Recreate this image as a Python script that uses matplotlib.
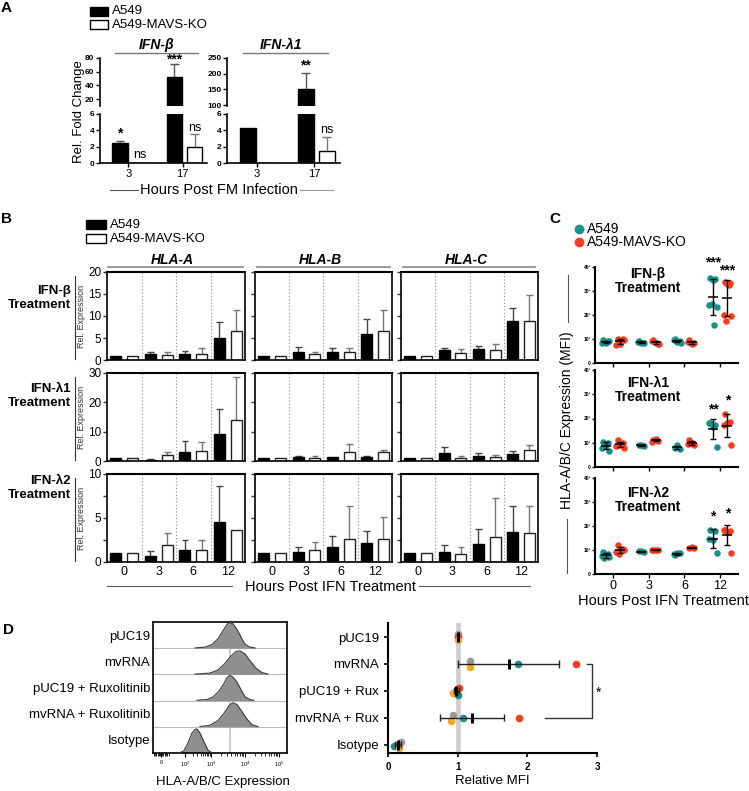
import numpy as np
import matplotlib
matplotlib.use('Agg')
import matplotlib.pyplot as plt
from matplotlib.lines import Line2D
from matplotlib.patches import Rectangle

plt.rcParams['font.family'] = ['Liberation Sans', 'DejaVu Sans']
plt.rcParams['axes.linewidth'] = 1.2
plt.rcParams['mathtext.fontset'] = 'custom'
plt.rcParams['mathtext.rm'] = 'Liberation Sans'

# ---------------- data ----------------
# A: qPCR fold change (mean, SD), hours 3 and 17
a_hours = ['3', '17']
ifnb_wt = [2.4, 53.0]
ifnb_wt_sd = [0.3, 18.0]
ifnb_ko = [0.0, 1.9]
ifnb_ko_sd = [0.0, 1.6]
ifnl1_wt = [4.3, 152.0]
ifnl1_wt_sd = [0.0, 49.0]
ifnl1_ko = [0.0, 1.5]
ifnl1_ko_sd = [0.0, 1.7]
ifnb_stars = [['*', '***'], ['ns', 'ns']]
ifnl1_stars = [['', '**'], ['', 'ns']]

# B: HLA relative expression, hours 0/3/6/12, columns HLA-A, HLA-B, HLA-C
b_hours = ['0', '3', '6', '12']
b_genes = ['HLA-A', 'HLA-B', 'HLA-C']
b_treat = ['IFN-β', 'IFN-λ1', 'IFN-λ2']
b_beta_wt = [[1.0, 1.3, 1.3, 4.9], [1.0, 1.9, 1.75, 5.95], [1.0, 2.2, 2.4, 8.9]]
b_beta_wt_sd = [[0, 0.45, 0.75, 3.8], [0, 1.0, 1.0, 3.35], [0, 0.5, 0.7, 2.9]]
b_beta_ko = [[1.0, 1.15, 1.45, 6.6], [1.0, 1.3, 1.75, 6.6], [1.0, 1.5, 2.2, 8.8]]
b_beta_ko_sd = [[0, 0.6, 1.3, 4.7], [0, 0.6, 0.95, 4.7], [0, 0.9, 1.4, 6.0]]
b_l1_wt = [[1.0, 0.5, 3.0, 9.2], [1.0, 1.5, 1.4, 1.3], [1.0, 2.7, 1.8, 2.5]]
b_l1_wt_sd = [[0, 0.2, 3.7, 8.4], [0, 0.3, 0, 0.4], [0, 2.1, 0.8, 0.8]]
b_l1_ko = [[1.0, 2.2, 3.5, 14.1], [1.0, 1.0, 3.0, 3.0], [1.0, 1.1, 1.5, 3.9]]
b_l1_ko_sd = [[0, 0.8, 3.1, 14.4], [0, 0.8, 2.8, 0.9], [0, 0.6, 0.4, 1.7]]
b_l2_wt = [[1.0, 0.65, 1.4, 4.6], [1.0, 1.1, 1.65, 2.15], [1.0, 1.15, 2.05, 3.45]]
b_l2_wt_sd = [[0, 0.55, 1.15, 4.05], [0, 0.65, 1.35, 1.4], [0, 0.75, 1.75, 2.95]]
b_l2_ko = [[1.0, 1.9, 1.4, 3.6], [1.0, 1.4, 2.65, 2.6], [1.0, 0.9, 2.8, 3.3]]
b_l2_ko_sd = [[0, 1.45, 1.15, 0], [0, 0.9, 3.75, 2.5], [0, 0.75, 4.5, 3.1]]

# C: HLA-A/B/C MFI (x10^3) replicate values per hour
c_hours = ['0', '3', '6', '12']
c_beta_wt = [[9.5, 9.0, 8.5, 8.2, 9.2, 8.8], [9.0, 8.5, 8.2, 8.8], [9.8, 9.0, 8.7, 9.5, 8.5],
             [35.5, 35.0, 34.5, 24.0, 23.5, 24.5, 16.0]]
c_beta_ko = [[10.2, 9.8, 8.0, 7.5, 9.5, 9.0], [9.5, 8.0, 8.5, 9.0, 7.8], [9.6, 8.4, 8.0, 8.6],
             [33.8, 33.5, 33.0, 20.0, 19.5, 17.5, 32.5]]
c_l1_wt = [[10.5, 10.0, 9.0, 8.0, 6.8], [9.0, 8.6, 9.2], [8.0, 7.6, 8.9], [18.3, 17.5, 16.5, 18.0, 8.2]]
c_l1_ko = [[11.0, 10.0, 9.5, 8.5, 8.0, 9.0], [11.2, 10.8, 11.5, 10.5], [11.0, 9.0, 10.0, 9.3],
           [22.0, 18.5, 18.0, 17.5, 9.0]]
c_l2_wt = [[9.0, 8.5, 8.0, 7.5, 7.0, 6.5], [9.4, 9.2, 9.5], [8.0, 8.6, 8.9, 8.3], [18.2, 18.0, 14.3, 14.5, 8.7]]
c_l2_ko = [[12.0, 10.5, 9.5, 9.0, 10.0, 8.5], [10.0, 9.8, 10.2, 10.1], [10.8, 11.0, 11.2],
           [18.5, 18.0, 17.5, 18.2, 8.7]]
c_stars = [['***', '***'], ['**', '*'], ['*', '*']]

# D left: flow histograms (channel position, height in row units)
d_hist_labels = ['pUC19', 'mvRNA', 'pUC19 + Ruxolitinib', 'mvRNA + Ruxolitinib', 'Isotype']
h_puc_x = [321, 397, 451, 497, 535, 566, 588, 611, 642, 672, 703, 741, 780]
h_puc_y = [0.01, 0.04, 0.14, 0.36, 0.67, 0.91, 0.98, 0.93, 0.72, 0.43, 0.15, 0.04, 0.01]
h_mv_x = [321, 436, 497, 550, 596, 634, 665, 703, 741, 787, 833, 879]
h_mv_y = [0.01, 0.05, 0.17, 0.42, 0.70, 0.87, 0.90, 0.78, 0.52, 0.24, 0.07, 0.01]
h_pucrux_x = [336, 413, 459, 504, 543, 566, 588, 611, 642, 672, 703, 741, 772]
h_pucrux_y = [0.01, 0.04, 0.14, 0.36, 0.66, 0.88, 0.96, 0.90, 0.70, 0.42, 0.15, 0.04, 0.01]
h_mvrux_x = [359, 436, 497, 543, 581, 611, 642, 680, 718, 757, 802]
h_mvrux_y = [0.01, 0.06, 0.24, 0.52, 0.81, 0.92, 0.85, 0.58, 0.29, 0.08, 0.01]
h_iso_x = [206, 237, 267, 298, 321, 336, 359, 390, 420, 451]
h_iso_y = [0.01, 0.09, 0.38, 0.76, 0.90, 0.92, 0.76, 0.42, 0.11, 0.01]
h_tick_pos = [61, 245, 443, 703, 963]
h_tick_lab = ['0', '$10^2$', '$10^3$', '$10^4$', '$10^5$']
h_ref = 588

# D right: relative MFI per replicate
d_samples = ['pUC19', 'mvRNA', 'pUC19 + Rux', 'mvRNA + Rux', 'Isotype']
d_gray = [1.0, 1.18, 0.97, 0.93, 0.18]
d_teal = [1.0, 1.87, 1.0, 1.08, 0.09]
d_red = [1.0, 2.70, 1.02, 1.88, 0.14]
d_orange = [1.0, 1.17, 0.94, 0.91, 0.16]

TEAL = '#14928c'
RED = '#ff3a1c'
GRAY = '#9a9a9a'
ORANGE = '#f7a823'

W, H = 749, 791
fig = plt.figure(figsize=(W / 100, H / 100), dpi=100)


def px_axes(x0, y0, x1, y1):
    return fig.add_axes([x0 / W, 1 - y1 / H, (x1 - x0) / W, (y1 - y0) / H])


def ftext(x, y, s, **kw):
    return fig.text(x / W, 1 - y / H, s, **kw)


def fline(xs, ys, **kw):
    fig.add_artist(Line2D([x / W for x in xs], [1 - y / H for y in ys], **kw))


def fbox(x0, y0, x1, y1, fc):
    fig.add_artist(Rectangle((x0 / W, 1 - y1 / H), (x1 - x0) / W, (y1 - y0) / H,
                             facecolor=fc, edgecolor='black', lw=1.0))


def up_err(ax, xs, means, sds, cw, color):
    for x, m, s in zip(xs, means, sds):
        if s > 0:
            ax.vlines(x, m, m + s, color=color, lw=1.0, zorder=1)
            ax.hlines(m + s, x - cw, x + cw, color=color, lw=1.0, zorder=1)


# ---------------- panel A ----------------
ftext(6, 8, 'A', fontsize=11, fontweight='bold', ha='center', va='center')
fbox(90, 7, 108, 16, 'black')
fbox(90, 20, 108, 29, 'white')
ftext(112, 11.5, 'A549', fontsize=9.5, va='center')
ftext(112, 24.5, 'A549-MAVS-KO', fontsize=9.5, va='center')


def panel_a(x0, x1, title, tx, lx0, lx1, wt, wt_sd, ko, ko_sd, top_lim, top_ticks, stars, star_y):
    top = px_axes(x0, 58, x1, 106)
    bot = px_axes(x0, 114, x1, 163)
    x = np.arange(len(a_hours))
    for ax in (top, bot):
        ax.bar(x - 0.15, wt, 0.28, color='black', edgecolor='black', lw=1, zorder=2)
        ax.bar(x + 0.22, ko, 0.28, color='white', edgecolor='black', lw=1, zorder=2)
        up_err(ax, x - 0.15, wt, wt_sd, 0.08, '#555555')
        up_err(ax, x + 0.22, ko, ko_sd, 0.08, '#777777')
        ax.set_xlim(-0.52, 1.45)
        for s in ('top', 'right'):
            ax.spines[s].set_visible(False)
        ax.tick_params(axis='y', labelsize=6, length=3, width=1, pad=1)
    top.set_ylim(*top_lim)
    top.set_yticks(top_ticks)
    top.spines['bottom'].set_visible(False)
    top.set_xticks([])
    bot.set_ylim(0, 6)
    bot.set_yticks([0, 2, 4, 6])
    bot.set_xticks(x)
    bot.set_xticklabels(a_hours, fontsize=8)
    bot.tick_params(axis='x', length=3, width=1, pad=1)
    for lab in top.get_yticklabels() + bot.get_yticklabels():
        lab.set_fontweight('bold')
    for (i, j), (which, yy) in star_y.items():
        ax = top if which == 't' else bot
        xx = (i - 0.15) if j == 0 else (i + 0.22)
        ax.text(xx, yy, stars[j][i], ha='center', va='bottom', fontsize=9 if stars[j][i] == 'ns' else 10,
                fontweight='normal' if stars[j][i] == 'ns' else 'bold', clip_on=False)
    ftext(tx, 45, title, fontsize=10, fontweight='bold', fontstyle='italic', ha='center', va='center')
    fline([lx0, lx1], [53, 53], color='#777777', lw=1)


panel_a(100, 207, 'IFN-β', 157, 115, 198, ifnb_wt, ifnb_wt_sd, ifnb_ko, ifnb_ko_sd, (10, 80),
        [20, 40, 60, 80], ifnb_stars,
        {(0, 0): ('b', 2.75), (0, 1): ('b', 0.2), (1, 0): ('t', 67), (1, 1): ('b', 3.6)})
panel_a(227, 340, 'IFN-λ1', 281, 243, 328, ifnl1_wt, ifnl1_wt_sd, ifnl1_ko, ifnl1_ko_sd, (97, 250),
        [100, 150, 200, 250], ifnl1_stars,
        {(1, 0): ('t', 205), (1, 1): ('b', 3.3)})
ftext(79, 112, 'Rel. Fold Change', fontsize=9.5, rotation=90, ha='center', va='center')
ftext(219, 190, 'Hours Post FM Infection', fontsize=10.5, ha='center', va='center')
fline([110, 138], [190, 190], color='#555555', lw=0.8)
fline([300, 333], [190, 190], color='#999999', lw=0.8)

# ---------------- panel B ----------------
ftext(7, 219, 'B', fontsize=11, fontweight='bold', ha='center', va='center')
fbox(86, 220, 106, 229, 'black')
fbox(86, 234, 106, 243, 'white')
ftext(110, 224.5, 'A549', fontsize=9.5, va='center')
ftext(110, 238.5, 'A549-MAVS-KO', fontsize=9.5, va='center')

b_cols = [(107, 245), (255, 392), (401, 538)]
b_rows = [(272, 360), (373, 461), (474, 562)]
b_title_x = [172, 320, 466]
b_title_lines = [(108, 243), (257, 390), (403, 535)]
b_row_y = [298, 396, 488]
b_ylims = [(0, 20, [0, 5, 10, 15, 20], [0, 5, 10, 15, 20]),
           (0, 30, [0, 10, 20, 30], [0, 10, 20, 30]),
           (0, 10, [0, 2.5, 5, 7.5, 10], ['0', '', '5', '', '10'])]
b_data = [(b_beta_wt, b_beta_wt_sd, b_beta_ko, b_beta_ko_sd),
          (b_l1_wt, b_l1_wt_sd, b_l1_ko, b_l1_ko_sd),
          (b_l2_wt, b_l2_wt_sd, b_l2_ko, b_l2_ko_sd)]

for c, g in enumerate(b_genes):
    ftext(b_title_x[c], 260, g, fontsize=10, fontweight='bold', fontstyle='italic', ha='center', va='center')
    fline(list(b_title_lines[c]), [267, 267], color='#888888', lw=1.2)

xb = np.arange(len(b_hours))
for r in range(3):
    wt, wt_sd, ko, ko_sd = b_data[r]
    y0, y1 = b_rows[r]
    ftext(71, b_row_y[r], b_treat[r] + '\nTreatment', fontsize=9.5, fontweight='bold', ha='right',
          va='center', linespacing=1.3)
    ftext(81, (y0 + y1) / 2, 'Rel. Expression', fontsize=6.5, rotation=90, ha='center', va='center',
          color='#333333')
    fline([75, 75], [y0 + 4, y1 - 1], color='#333333', lw=0.8)
    for c in range(3):
        ax = px_axes(b_cols[c][0], y0, b_cols[c][1], y1)
        ax.bar(xb - 0.24, wt[c], 0.32, color='black', edgecolor='black', lw=1, zorder=2)
        ax.bar(xb + 0.25, ko[c], 0.32, color='white', edgecolor='#222222', lw=1, zorder=2)
        up_err(ax, xb - 0.24, wt[c], wt_sd[c], 0.1, '#444444')
        up_err(ax, xb + 0.25, ko[c], ko_sd[c], 0.1, '#777777')
        for xv in (0.5, 1.5, 2.5):
            ax.axvline(xv, color='#888888', lw=0.8, ls=(0, (1, 2)), zorder=0)
        lo, hi, ticks, labs = b_ylims[r]
        ax.set_ylim(lo, hi)
        ax.set_xlim(-0.5, 3.5)
        ax.set_yticks(ticks)
        if c == 0:
            ax.set_yticklabels(labs, fontsize=8.5)
        else:
            ax.set_yticklabels([])
        ax.tick_params(axis='y', length=3, width=1, pad=1, color='#333333')
        ax.set_xticks(xb)
        if r == 2:
            ax.set_xticklabels(b_hours, fontsize=9)
            ax.tick_params(axis='x', length=0, pad=3)
        else:
            ax.set_xticklabels([])
            ax.tick_params(axis='x', length=0)
        ax.spines['top'].set_linewidth(1.5)

ftext(330, 587, 'Hours Post IFN Treatment', fontsize=10.5, ha='center', va='center')
fline([107, 232], [586, 586], color='#555555', lw=0.8)
fline([419, 530], [586, 586], color='#555555', lw=0.8)

# ---------------- panel C ----------------
ftext(555, 219, 'C', fontsize=11, fontweight='bold', ha='center', va='center')
fig.add_artist(Line2D([579 / W], [1 - 229 / H], marker='o', ms=6, color=TEAL, lw=0))
fig.add_artist(Line2D([579 / W], [1 - 242 / H], marker='o', ms=6, color=RED, lw=0))
ftext(587, 229, 'A549', fontsize=10, va='center')
ftext(587, 242, 'A549-MAVS-KO', fontsize=10, va='center')

c_rows = [(267, 363), (370, 467), (478, 574)]
c_data = [(c_beta_wt, c_beta_ko), (c_l1_wt, c_l1_ko), (c_l2_wt, c_l2_ko)]
c_title_y = [281, 390, 500]
c_star_y = [[39.0, 35.5], [21.0, 24.5], [21.0, 22.5]]
jit = np.array([-0.07, 0.07, 0.0, -0.1, 0.1, -0.035, 0.035])
xc = np.arange(len(c_hours))
for r in range(3):
    y0, y1 = c_rows[r]
    ax = px_axes(595, y0, 738, y1)
    for g in range(4):
        for pts, off, col in ((c_data[r][0][g], -0.2, TEAL), (c_data[r][1][g], 0.2, RED)):
            pts = np.array(pts)
            xs = g + off + jit[:len(pts)]
            ax.scatter(xs, pts, s=22, color=col, lw=0, zorder=2)
            m, sd = pts.mean(), pts.std(ddof=1)
            ax.hlines(m, g + off - 0.14, g + off + 0.14, color='black', lw=1.1, zorder=3)
            ax.vlines(g + off, m - sd, m + sd, color='black', lw=1.0, zorder=3)
            ax.hlines([m - sd, m + sd], g + off - 0.09, g + off + 0.09, color='black', lw=1.0, zorder=3)
    ax.text(3 - 0.2, c_star_y[r][0], c_stars[r][0], ha='center', va='bottom', fontsize=10,
            fontweight='bold', clip_on=False)
    ax.text(3 + 0.2, c_star_y[r][1], c_stars[r][1], ha='center', va='bottom', fontsize=10,
            fontweight='bold', clip_on=False)
    ax.set_xlim(-0.5, 3.5)
    ax.set_ylim(0, 40)
    ax.set_yticks([0, 10, 20, 30, 40])
    ax.set_yticklabels(['0', '10³', '20³', '30³', '40³'], fontsize=3.5, fontweight='bold')
    ax.tick_params(axis='y', length=2, width=1, pad=1)
    ax.set_xticks(xc)
    if r == 2:
        ax.set_xticklabels(c_hours, fontsize=9)
    else:
        ax.set_xticklabels([])
    ax.tick_params(axis='x', length=3, width=1, pad=1)
    for s in ('top', 'right'):
        ax.spines[s].set_visible(False)
    ax.spines['left'].set_linewidth(1.5)
    ax.spines['bottom'].set_linewidth(1.5)
    ftext(648, c_title_y[r], b_treat[r] + '\nTreatment', fontsize=10, fontweight='bold', ha='center',
          va='center', linespacing=1.0)

ftext(567, 420, 'HLA-A/B/C Expression (MFI)', fontsize=10, rotation=90, ha='center', va='center')
fline([568, 568], [275, 322], color='#555555', lw=0.8)
fline([567, 567], [519, 573], color='#555555', lw=0.8)
ftext(663, 601, 'Hours Post IFN Treatment', fontsize=10.5, ha='center', va='center')

# ---------------- panel D (histograms) ----------------
ftext(8, 630, 'D', fontsize=11, fontweight='bold', ha='center', va='center')
hx = [h_puc_x, h_mv_x, h_pucrux_x, h_mvrux_x, h_iso_x]
hy = [h_puc_y, h_mv_y, h_pucrux_y, h_mvrux_y, h_iso_y]
base = [4, 3, 2, 1, 0]
label_y = [637, 663, 689, 715, 741]
axh = px_axes(153, 622, 287, 753)
axh.axvline(h_ref, color='#cccccc', lw=1.5, zorder=0)
for k in range(5):
    yy = np.array(hy[k]) + base[k]
    axh.fill_between(hx[k], base[k], yy, color='#8f8f8f', lw=0, zorder=2)
    axh.plot(hx[k], yy, color='#3a3a3a', lw=0.8, zorder=3)
    ftext(150, label_y[k], d_hist_labels[k], fontsize=9.5, ha='right', va='center')
for sep in (1, 2, 3, 4):
    axh.axhline(sep, color='#bbbbbb', lw=0.8, zorder=1)
axh.set_xlim(0, 1024)
axh.set_ylim(0, 5)
axh.set_yticks([])
axh.set_xticks(h_tick_pos)
axh.set_xticklabels(h_tick_lab, fontsize=4)
minor = []
for a, b in zip(h_tick_pos[1:-1], h_tick_pos[2:]):
    minor += list(a + (b - a) * np.log10(np.arange(2, 10)))
minor += list(np.linspace(5, 120, 12))
axh.set_xticks(minor, minor=True)
axh.tick_params(axis='x', which='major', length=3, width=0.8, pad=2)
axh.tick_params(axis='x', which='minor', length=2, width=0.6)
ftext(223, 782, 'HLA-A/B/C Expression', fontsize=9.5, ha='center', va='center')

# ---------------- panel D (dot plot) ----------------
axd = px_axes(388, 623, 597, 753)
yd = np.arange(len(d_samples))
axd.axvline(1, color='#cfcfcf', lw=3.5, zorder=0)
reps = [(d_gray, GRAY, [-0.12, -0.12, 0.0, -0.1, -0.1]),
        (d_teal, TEAL, [0.04, 0.0, 0.14, 0.0, 0.05]),
        (d_red, RED, [0.0, 0.0, -0.12, 0.0, 0.0]),
        (d_orange, ORANGE, [0.12, 0.12, 0.08, 0.12, 0.12])]
for vals, col, dy in reps:
    axd.scatter(vals, yd + np.array(dy), s=30, color=col, lw=0, zorder=2)
allv = np.array([d_gray, d_teal, d_red, d_orange])
dm = allv.mean(axis=0)
dsd = allv.std(axis=0, ddof=1)
for i in range(len(d_samples)):
    axd.hlines(yd[i], dm[i] - dsd[i], dm[i] + dsd[i], color='#222222', lw=1.0, zorder=3)
    axd.vlines([dm[i] - dsd[i], dm[i] + dsd[i]], yd[i] - 0.13, yd[i] + 0.13, color='#222222', lw=1.0, zorder=3)
    axd.vlines(dm[i], yd[i] - 0.18, yd[i] + 0.18, color='black', lw=2.2, zorder=4)
axd.plot([2.86, 2.93, 2.93, 2.25], [1, 1, 3, 3], color='#333333', lw=1.0, clip_on=False)
axd.text(3.02, 2.05, '*', fontsize=10, ha='center', va='center', clip_on=False)
axd.set_xlim(0, 3)
axd.set_ylim(4.3, -0.52)
axd.set_yticks(yd)
axd.set_yticklabels(d_samples, fontsize=9.5)
axd.set_xticks([0, 1, 2, 3])
axd.set_xticklabels(['0', '1', '2', '3'], fontsize=7, fontweight='bold')
axd.tick_params(axis='both', length=3, width=1.2)
for s in ('top', 'right'):
    axd.spines[s].set_visible(False)
axd.spines['left'].set_linewidth(1.5)
axd.spines['bottom'].set_linewidth(1.5)
ftext(492, 781, 'Relative MFI', fontsize=9.5, ha='center', va='center')

fig.savefig('out.png', dpi=100)
